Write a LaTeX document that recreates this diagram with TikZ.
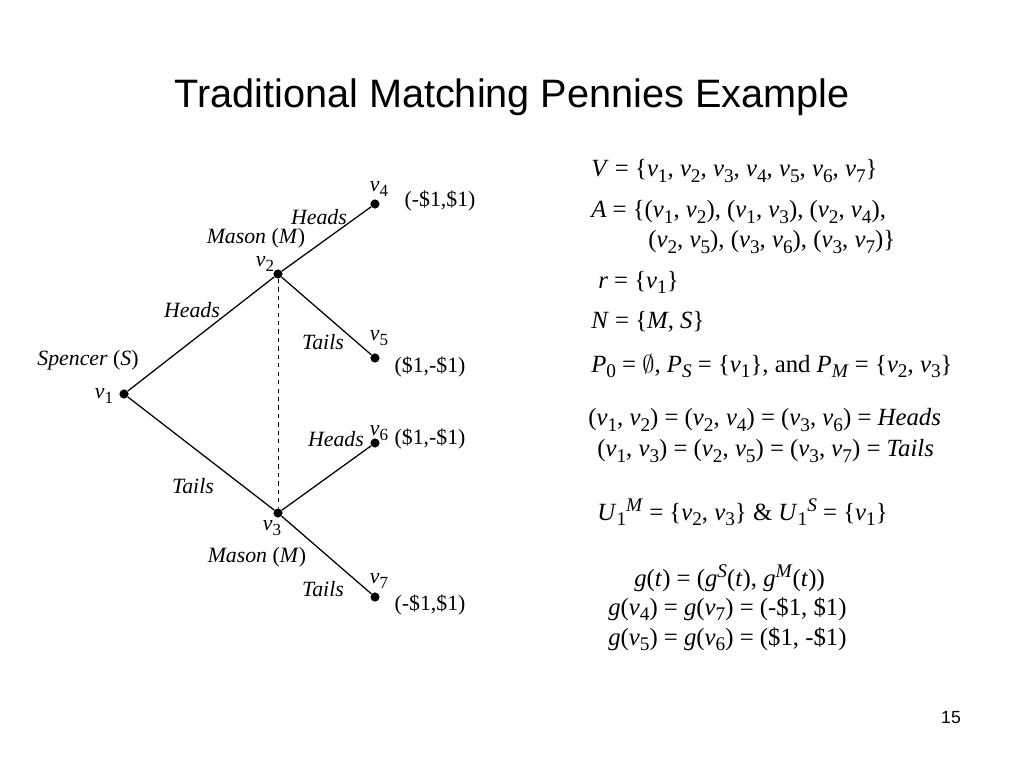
\documentclass[tikz,border=0pt]{standalone}
\usepackage{fontspec}
\setmainfont{Liberation Serif}
\newfontfamily\titlefont{Liberation Sans}
\usetikzlibrary{positioning}
\newcommand{\sub}[1]{\raisebox{-0.45ex}{\scalebox{0.78}{#1}}}
\newcommand{\super}[1]{\raisebox{0.75ex}{\scalebox{0.78}{#1}}}
\newcommand{\vv}[1]{\textit{v}\sub{#1}}
\begin{document}
\begin{tikzpicture}[x=0.025cm,y=-0.025cm,
			vertex/.style={circle,fill,inner sep=0pt,minimum size=6.5pt},
			branch/.style={line width=0.9pt},
			lbl/.style={font=\fontsize{15.5}{18}\selectfont,inner sep=0pt},
			eqn/.style={font=\fontsize{17.6}{20}\selectfont,anchor=west,inner sep=0pt}]
		\useasboundingbox (0,0) rectangle (1024,768);
		\node[font=\titlefont\fontsize{28.2}{32}\selectfont] (title) at (512,97)
		{Traditional Matching Pennies Example};
		% game tree
		\node[vertex] (v1) at (124,394) {};
		\node[vertex] (v2) at (278,274) {};
		\node[vertex] (v3) at (278,513) {};
		\node[vertex] (v4) at (375,204) {};
		\node[vertex] (v5) at (375,358) {};
		\node[vertex] (v6) at (375,443) {};
		\node[vertex] (v7) at (375,597) {};
		\foreach \A/\B in {1/2,1/3,2/4,2/5,3/6,3/7}
		{\draw[branch] (v\A) -- (v\B);}
		\draw[dashed] (v2) -- (v3);
		% vertex names
		\node[lbl] (n1) at (104,396) {\vv{1}};
		\node[lbl] (n2) at (265,264) {\vv{2}};
		\node[lbl] (n3) at (272,528) {\vv{3}};
		\foreach \X/\Y in {4/189,5/338,6/433,7/581}
		{\node[lbl] (n\X) at (379,\Y) {\vv{\X}};}
		% players and moves
		\node[lbl] (spencer) at (88,360) {\textit{Spencer} (\textit{S})};
		\node[lbl] (masonA) at (256,238) {\textit{Mason} (\textit{M})};
		\node[lbl] (masonB) at (257,557) {\textit{Mason} (\textit{M})};
		\node[lbl] (h12) at (192,310) {\textit{Heads}};
		\node[lbl] (t13) at (193,486) {\textit{Tails}};
		\node[lbl] (h24) at (319,217) {\textit{Heads}};
		\node[lbl] (t25) at (323,342) {\textit{Tails}};
		\node[lbl] (h36) at (336,439) {\textit{Heads}};
		\node[lbl] (t37) at (323,589) {\textit{Tails}};
		% payoffs
		\node[lbl] (p4) at (440,201) {(-\$1,\$1)};
		\node[lbl] (p5) at (430,367) {(\$1,-\$1)};
		\node[lbl] (p6) at (430,439) {(\$1,-\$1)};
		\node[lbl] (p7) at (430,605) {(-\$1,\$1)};
		% definitions
		\node[eqn] (V) at (591,171) {\textit{V} = \{\vv{1}, \vv{2}, \vv{3}, \vv{4}, \vv{5}, \vv{6}, \vv{7}\}};
		\node[eqn] (Aa) at (591,212) {\textit{A} = \{(\vv{1}, \vv{2}), (\vv{1}, \vv{3}), (\vv{2}, \vv{4}),};
		\node[eqn] (Ab) at (648,242) {(\vv{2}, \vv{5}), (\vv{3}, \vv{6}), (\vv{3}, \vv{7})\}};
		\node[eqn] (r) at (598,282) {\textit{r} = \{\vv{1}\}};
		\node[eqn] (N) at (591,322) {\textit{N} = \{\textit{M}, \textit{S}\}};
		\node[eqn] (P) at (591,366) {\textit{P}\sub{0} = $\emptyset$, \textit{P}\sub{\textit{S}} = \{\vv{1}\}, and \textit{P}\sub{\textit{M}} = \{\vv{2}, \vv{3}\}};
		\node[eqn] (heads) at (588,420) {(\vv{1}, \vv{2}) = (\vv{2}, \vv{4}) = (\vv{3}, \vv{6}) = \textit{Heads}};
		\node[eqn] (tails) at (597,451) {(\vv{1}, \vv{3}) = (\vv{2}, \vv{5}) = (\vv{3}, \vv{7}) = \textit{Tails}};
		\node[eqn] (U) at (597,512) {\textit{U}\sub{1}\super{\textit{M}} = \{\vv{2}, \vv{3}\} \& \textit{U}\sub{1}\super{\textit{S}} = \{\vv{1}\}};
		\node[eqn] (g) at (634,578) {\textit{g}(\textit{t}) = (\textit{g}\super{\textit{S}}(\textit{t}), \textit{g}\super{\textit{M}}(\textit{t}))};
		\node[eqn] (g47) at (608,609) {\textit{g}(\vv{4}) = \textit{g}(\vv{7}) = (-\$1, \$1)};
		\node[eqn] (g56) at (608,639) {\textit{g}(\vv{5}) = \textit{g}(\vv{6}) = (\$1, -\$1)};
		\node[font=\titlefont\fontsize{12.5}{15}\selectfont] (page) at (951,718) {15};
	\end{tikzpicture}
\end{document}
